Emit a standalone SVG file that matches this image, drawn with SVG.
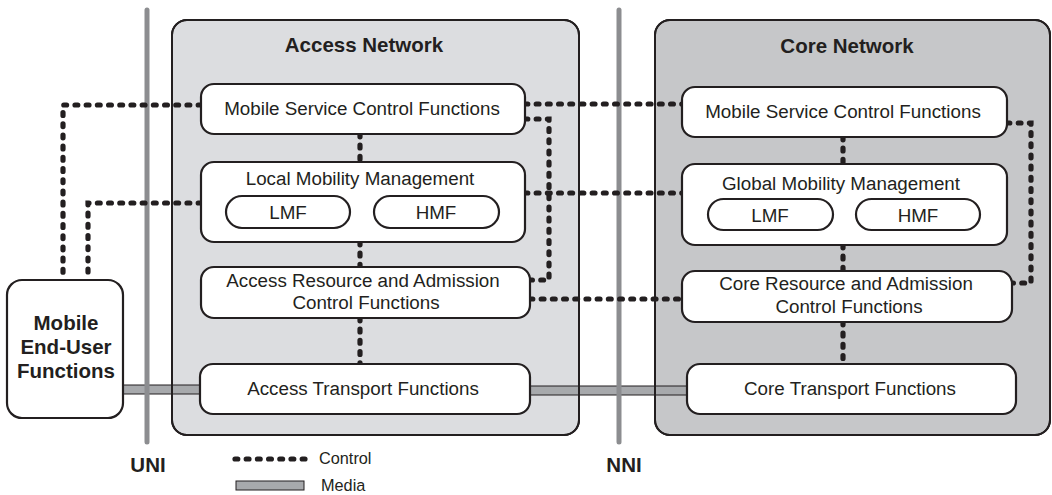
<svg xmlns="http://www.w3.org/2000/svg" width="1052" height="495" viewBox="0 0 1052 495">
<style>
.cont{stroke:#231f20;stroke-width:2}
.outl{fill:none;stroke:#231f20;stroke-width:2}
.node{fill:#ffffff;stroke:#231f20;stroke-width:2.2}
.iface{stroke:#8c8d90;stroke-width:5;stroke-linecap:round;fill:none}
.media{fill:#a7a9ac;stroke:#231f20;stroke-width:1}
.ctrl{fill:none;stroke:#231f20;stroke-width:5.2;stroke-linecap:round;stroke-dasharray:2.8 8.4}
.t{font-family:"Liberation Sans",Arial,Helvetica,sans-serif;font-size:18.8px;fill:#231f20;text-anchor:middle}
.b{font-family:"Liberation Sans",Arial,Helvetica,sans-serif;font-size:20.5px;font-weight:bold;fill:#231f20;text-anchor:middle}
.lg{font-family:"Liberation Sans",Arial,Helvetica,sans-serif;font-size:16.3px;fill:#231f20}
</style>
<rect width="1052" height="495" fill="#ffffff"/>
<g id="access-network">
<rect class="cont" x="172" y="20" width="407" height="415" rx="15" fill="#dcdde0"/>
<text class="b" x="364" y="52">Access Network</text>
</g>
<g id="core-network">
<rect class="cont" x="655" y="20" width="395" height="415" rx="15" fill="#c6c7c9"/>
<text class="b" x="847" y="53">Core Network</text>
</g>
<g id="connectors">
<rect class="media" x="123" y="385" width="77" height="9"/>
<rect class="media" x="530" y="386" width="157" height="9"/>
<line class="iface" x1="147" y1="10" x2="147" y2="442"/>
<line class="iface" x1="619" y1="10" x2="619" y2="442"/>
<polyline class="ctrl" points="201,105 63,105 63,280"/>
<polyline class="ctrl" points="201,203 88,203 88,280"/>
<line class="ctrl" x1="525" y1="104" x2="682" y2="104"/>
<polyline class="ctrl" points="525,119 549,119 549,280 530,280"/>
<line class="ctrl" x1="525" y1="193" x2="682" y2="193"/>
<line class="ctrl" x1="530" y1="299" x2="682" y2="299"/>
<polyline class="ctrl" points="1007,123 1031,123 1031,283 1012,283"/>
<line class="ctrl" x1="360" y1="134" x2="360" y2="162"/>
<line class="ctrl" x1="360" y1="242" x2="360" y2="267"/>
<line class="ctrl" x1="360" y1="318" x2="360" y2="364"/>
<line class="ctrl" x1="843" y1="137" x2="843" y2="164"/>
<line class="ctrl" x1="843" y1="245" x2="843" y2="271"/>
<line class="ctrl" x1="843" y1="322" x2="843" y2="364"/>
</g>
<g id="container-outlines">
<rect class="outl" x="172" y="20" width="407" height="415" rx="15"/>
<rect class="outl" x="655" y="20" width="395" height="415" rx="15"/>
</g>
<g id="mobile-end-user">
<rect class="node" x="7" y="280" width="116" height="138" rx="15"/>
<text class="b" x="66" y="330">Mobile</text>
<text class="b" x="66" y="354">End-User</text>
<text class="b" x="66" y="378">Functions</text>
</g>
<g id="access-mscf">
<rect class="node" x="201" y="84" width="324" height="50" rx="13"/>
<text class="t" x="362" y="115">Mobile Service Control Functions</text>
</g>
<g id="access-lmm">
<rect class="node" x="201" y="162" width="324" height="80" rx="13"/>
<text class="t" x="360" y="185">Local Mobility Management</text>
<rect class="node" x="226" y="196" width="124" height="32" rx="16"/>
<text class="t" x="288" y="219">LMF</text>
<rect class="node" x="374" y="196" width="125" height="32" rx="16"/>
<text class="t" x="436" y="219">HMF</text>
</g>
<g id="access-racf">
<rect class="node" x="201" y="267" width="329" height="51" rx="13"/>
<text class="t" x="363" y="287">Access Resource and Admission</text>
<text class="t" x="366" y="309">Control Functions</text>
</g>
<g id="access-transport">
<rect class="node" x="200" y="364" width="330" height="50" rx="13"/>
<text class="t" x="363" y="395">Access Transport Functions</text>
</g>
<g id="core-mscf">
<rect class="node" x="682" y="87" width="325" height="50" rx="13"/>
<text class="t" x="843" y="118">Mobile Service Control Functions</text>
</g>
<g id="core-gmm">
<rect class="node" x="682" y="164" width="325" height="81" rx="13"/>
<text class="t" x="841" y="190">Global Mobility Management</text>
<rect class="node" x="708" y="199" width="125" height="31" rx="15.5"/>
<text class="t" x="770" y="222">LMF</text>
<rect class="node" x="856" y="199" width="124" height="31" rx="15.5"/>
<text class="t" x="918" y="222">HMF</text>
</g>
<g id="core-racf">
<rect class="node" x="682" y="271" width="330" height="51" rx="13"/>
<text class="t" x="846" y="290">Core Resource and Admission</text>
<text class="t" x="849" y="313">Control Functions</text>
</g>
<g id="core-transport">
<rect class="node" x="687" y="364" width="329" height="50" rx="13"/>
<text class="t" x="850" y="395">Core Transport Functions</text>
</g>
<g id="interface-labels">
<text class="b" x="148" y="472">UNI</text>
<text class="b" x="624" y="472">NNI</text>
</g>
<g id="legend">
<line class="ctrl" x1="235" y1="459" x2="306" y2="459"/>
<text class="lg" x="319" y="464">Control</text>
<rect class="media" x="236" y="481" width="68" height="9"/>
<text class="lg" x="321" y="491">Media</text>
</g>
</svg>
